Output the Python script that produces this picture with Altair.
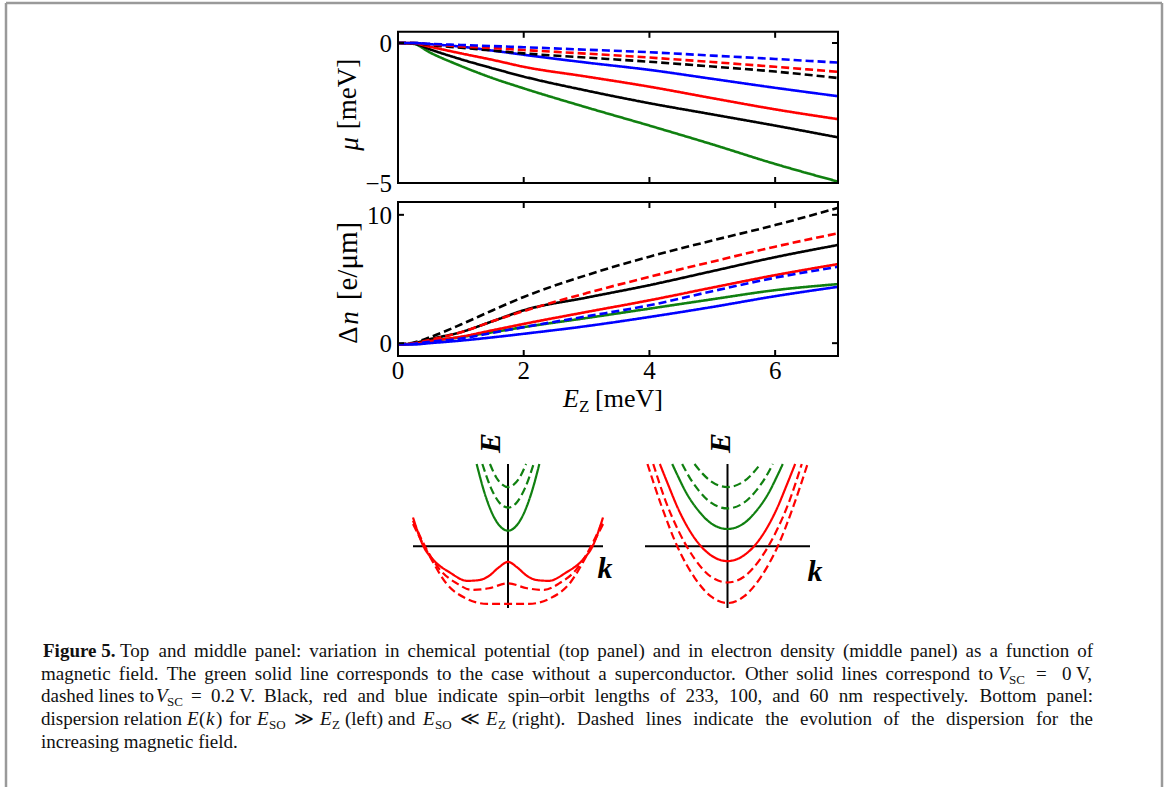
import altair as alt
import pandas as pd

W, H = 1168, 787
SERIF = "Liberation Serif"

# ---------------------------------------------------------------------------
# Upper panels: Zeeman energy grid (meV)
ez = [0, 0.25, 0.5, 1, 1.5, 2, 3, 4, 5, 6, 7]

# chemical potential mu (meV)
mu_green = [0.0, -0.03, -0.33, -0.82, -1.25, -1.62, -2.30, -2.95, -3.62, -4.32, -4.95]
mu_black = [0.0, -0.02, -0.22, -0.58, -0.90, -1.20, -1.70, -2.15, -2.55, -2.95, -3.37]
mu_red = [0.0, -0.01, -0.13, -0.37, -0.60, -0.85, -1.20, -1.56, -1.97, -2.37, -2.72]
mu_blue = [0.0, 0.0, -0.04, -0.13, -0.27, -0.42, -0.70, -0.96, -1.28, -1.60, -1.90]
mu_black_d = [0.0, 0.0, -0.07, -0.17, -0.27, -0.37, -0.52, -0.67, -0.84, -1.02, -1.25]
mu_red_d = [0.0, 0.0, -0.05, -0.12, -0.18, -0.25, -0.38, -0.52, -0.68, -0.85, -1.03]
mu_blue_d = [0.0, 0.0, -0.03, -0.07, -0.11, -0.15, -0.24, -0.33, -0.45, -0.57, -0.70]

# electron density change (e/um)
dn_green = [-0.1, -0.05, 0.15, 0.47, 0.85, 1.25, 1.96, 2.69, 3.42, 4.13, 4.60]
dn_black = [-0.1, 0.0, 0.30, 0.86, 1.70, 2.56, 3.55, 4.52, 5.61, 6.70, 7.65]
dn_red = [-0.1, -0.05, 0.15, 0.50, 1.00, 1.50, 2.43, 3.34, 4.33, 5.30, 6.16]
dn_blue = [-0.1, -0.1, 0.0, 0.20, 0.45, 0.73, 1.33, 2.04, 2.82, 3.66, 4.39]
dn_black_d = [-0.1, 0.05, 0.45, 1.45, 2.55, 3.60, 5.30, 6.74, 8.00, 9.20, 10.55]
dn_red_d = [-0.1, 0.0, 0.25, 0.85, 1.70, 2.50, 3.90, 5.17, 6.35, 7.52, 8.56]
dn_blue_d = [-0.1, -0.05, 0.10, 0.36, 0.80, 1.25, 2.09, 2.95, 4.05, 5.10, 5.95]

x_ticks = [2, 4, 6]
x_tick_labels = [0, 2, 4, 6]
mu_ticks = [0, -5]
mu_tick_labels = ["0", "\u22125"]
dn_ticks = [0, 10]
dn_tick_labels = ["0", "10"]

# ---------------------------------------------------------------------------
# Lower panels: schematic dispersion E(k), left (E_SO >> E_Z)
kL_green = [-0.33, -0.25, -0.15, 0.0, 0.15, 0.25, 0.33]
EL_green = [1.0, 0.66, 0.36, 0.19, 0.36, 0.66, 1.0]
kL_green_d1 = [-0.27, -0.18, -0.09, 0.0, 0.09, 0.18, 0.27]
EL_green_d1 = [1.0, 0.71, 0.53, 0.47, 0.53, 0.71, 1.0]
kL_green_d2 = [-0.19, -0.12, -0.06, 0.0, 0.06, 0.12, 0.19]
EL_green_d2 = [1.0, 0.83, 0.75, 0.72, 0.75, 0.83, 1.0]
kL_red = [-1.0, -0.89, -0.79, -0.61, -0.43, -0.30, -0.20, -0.10, 0.0,
          0.10, 0.20, 0.30, 0.43, 0.61, 0.79, 0.89, 1.0]
EL_red = [0.35, 0.0, -0.16, -0.32, -0.42, -0.41, -0.36, -0.26, -0.19,
          -0.26, -0.36, -0.41, -0.42, -0.32, -0.16, 0.0, 0.35]
kL_red_d1 = [-1.0, -0.86, -0.72, -0.54, -0.38, -0.20, 0.0, 0.20, 0.38, 0.54, 0.72, 0.86, 1.0]
EL_red_d1 = [0.31, -0.03, -0.28, -0.45, -0.53, -0.51, -0.45, -0.51, -0.53, -0.45, -0.28, -0.03, 0.31]
kL_red_d2 = [-1.0, -0.82, -0.65, -0.43, -0.22, 0.0, 0.22, 0.43, 0.65, 0.82, 1.0]
EL_red_d2 = [0.27, -0.13, -0.45, -0.64, -0.70, -0.70, -0.70, -0.64, -0.45, -0.13, 0.27]

# right (E_SO << E_Z)
kR_green = [-0.67, -0.6, -0.5, -0.35, -0.2, 0.0, 0.2, 0.35, 0.5, 0.6, 0.67]
ER_green = [1.0, 0.85, 0.65, 0.43, 0.28, 0.21, 0.28, 0.43, 0.65, 0.85, 1.0]
kR_green_d1 = [-0.55, -0.45, -0.35, -0.2, 0.0, 0.2, 0.35, 0.45, 0.55]
ER_green_d1 = [1.0, 0.82, 0.68, 0.53, 0.46, 0.53, 0.68, 0.82, 1.0]
kR_green_d2 = [-0.40, -0.3, -0.2, 0.0, 0.2, 0.3, 0.40]
ER_green_d2 = [1.0, 0.88, 0.79, 0.72, 0.79, 0.88, 1.0]
kR_red = [-0.82, -0.72, -0.6, -0.4, -0.2, 0.0, 0.2, 0.4, 0.6, 0.72, 0.82]
ER_red = [1.0, 0.75, 0.46, 0.10, -0.11, -0.18, -0.11, 0.10, 0.46, 0.75, 1.0]
kR_red_d1 = [-0.9, -0.75, -0.6, -0.4, -0.2, 0.0, 0.2, 0.4, 0.6, 0.75, 0.9]
ER_red_d1 = [1.0, 0.55, 0.20, -0.15, -0.37, -0.44, -0.37, -0.15, 0.20, 0.55, 1.0]
kR_red_d2 = [-0.97, -0.8, -0.6, -0.4, -0.2, 0.0, 0.2, 0.4, 0.6, 0.8, 0.97]
ER_red_d2 = [1.0, 0.49, -0.02, -0.38, -0.61, -0.69, -0.61, -0.38, -0.02, 0.49, 1.0]

# ---------------------------------------------------------------------------
# Caption runs: (line, left x, right x for justified runs or None, style, text)
caption_baselines = [657, 680, 702, 725, 748]
caption_runs = [
    (0, 43, None, "bold", "Figure 5."),
    (0, 120, 1093, "normal", "Top and middle panel: variation in chemical potential (top panel) and in electron density (middle panel) as a function of"),
    (1, 41, 993, "normal", "magnetic field. The green solid line corresponds to the case without a superconductor. Other solid lines correspond to"),
    (1, 998, None, "italic", "V"),
    (1, 1009, None, "sub", "SC"),
    (1, 1036, None, "normal", "="),
    (1, 1062, None, "normal", "0 V,"),
    (2, 41, None, "normal", "dashed lines to"),
    (2, 156, None, "italic", "V"),
    (2, 167, None, "sub", "SC"),
    (2, 191, None, "normal", "="),
    (2, 211, None, "normal", "0.2 V."),
    (2, 264, 1093, "normal", "Black, red and blue indicate spin\u2013orbit lengths of 233, 100, and 60 nm respectively. Bottom panel:"),
    (3, 41, None, "normal", "dispersion relation"),
    (3, 187, None, "italic", "E"),
    (3, 199, None, "normal", "("),
    (3, 206, None, "italic", "k"),
    (3, 216, None, "normal", ")"),
    (3, 229, None, "normal", "for"),
    (3, 257, None, "italic", "E"),
    (3, 269, None, "sub", "SO"),
    (3, 294, None, "normal", "\u226b"),
    (3, 320, None, "italic", "E"),
    (3, 332, None, "sub", "Z"),
    (3, 345, None, "normal", "(left) and"),
    (3, 423, None, "italic", "E"),
    (3, 435, None, "sub", "SO"),
    (3, 460, None, "normal", "\u226a"),
    (3, 486, None, "italic", "E"),
    (3, 498, None, "sub", "Z"),
    (3, 512, 1093, "normal", "(right). Dashed lines indicate the evolution of the dispersion for the"),
    (4, 41, None, "normal", "increasing magnetic field."),
]

# Times-compatible advance widths (per 1000 em) used to spread justified words
ADV = {
    " ": 250, "(": 333, ")": 333, ",": 250, "-": 333, ".": 250, ":": 278,
    "0": 500, "1": 500, "2": 500, "3": 500, "4": 500, "5": 500, "6": 500,
    "7": 500, "8": 500, "9": 500, "\u2013": 500,
    "A": 722, "B": 667, "C": 667, "D": 722, "E": 611, "F": 556, "O": 722,
    "T": 611, "V": 722,
    "a": 444, "b": 500, "c": 444, "d": 500, "e": 444, "f": 333, "g": 500,
    "h": 500, "i": 278, "j": 278, "k": 500, "l": 278, "m": 778, "n": 500,
    "o": 500, "p": 500, "q": 500, "r": 333, "s": 389, "t": 278, "u": 500,
    "v": 500, "w": 722, "x": 500, "y": 500, "z": 444,
}

COLORS = {"green": "#108010", "black": "#000000", "red": "#ff0000", "blue": "#0000ff"}


def sc(domain, rng):
    return alt.Scale(domain=domain, range=rng, nice=False, zero=False)


def qx(field, scale):
    return alt.X(field, type="quantitative", scale=scale, axis=None)


def qy(field, scale):
    return alt.Y(field, type="quantitative", scale=scale, axis=None)


# pixel placement of each panel
X_EZ = sc([0, 7], [398, 838])
Y_MU = sc([-5, 0.4], [183, 31.8])
Y_DN = sc([-1, 11], [356, 202])
K_L = sc([-1, 1], [413, 603])
K_R = sc([-1, 1], [645, 810])
E_S = sc([-0.75, 1], [608, 464])


def curves_table(xs_list, ys_list, names):
    rows = []
    for xs, ys, (name, colour, style) in zip(xs_list, ys_list, names):
        for x, y in zip(xs, ys):
            rows.append({"x": x, "y": y, "series": name,
                         "color": COLORS[colour], "style": style})
    return pd.DataFrame(rows)


def curve_layer(df, xs, ys, width, dash):
    return alt.Chart(df).mark_line(strokeWidth=width, interpolate="monotone").encode(
        x=qx("x", xs),
        y=qy("y", ys),
        color=alt.Color("color:N", scale=None),
        strokeDash=alt.StrokeDash(
            "style:N",
            scale=alt.Scale(domain=["solid", "dashed"], range=[[1, 0], dash]),
            legend=None,
        ),
        detail="series:N",
    )


def frame_layer(xs, ys, x0, x1, y0, y1):
    df = pd.DataFrame([{"x0": x0, "x1": x1, "y0": y0, "y1": y1}])
    return alt.Chart(df).mark_rect(fillOpacity=0, stroke="black", strokeWidth=2).encode(
        x=qx("x0", xs), x2="x1", y=qy("y0", ys), y2="y1"
    )


def rules_layer(df, xs, ys, width=2):
    return alt.Chart(df).mark_rule(color="black", strokeWidth=width).encode(
        x=qx("x0", xs), x2="x1", y=qy("y0", ys), y2="y1"
    )


layers = []

# ----- top panel: chemical potential --------------------------------------
mu_solid = curves_table(
    [ez] * 4, [mu_green, mu_black, mu_red, mu_blue],
    [("g", "green", "solid"), ("k", "black", "solid"), ("r", "red", "solid"), ("b", "blue", "solid")],
)
mu_dashed = curves_table(
    [ez] * 3, [mu_black_d, mu_red_d, mu_blue_d],
    [("kd", "black", "dashed"), ("rd", "red", "dashed"), ("bd", "blue", "dashed")],
)
layers.append(curve_layer(mu_solid, X_EZ, Y_MU, 2.6, [8, 4]))
layers.append(curve_layer(mu_dashed, X_EZ, Y_MU, 2.6, [8, 4]))
layers.append(frame_layer(X_EZ, Y_MU, 0, 7, -5, 0.4))

TX = 6 / 63.0    # tick length in E_Z units
TMU = 6 / 28.0   # tick length in mu units
TDN = 6 / 12.83  # tick length in density units

mu_tick_rows = []
for t in x_ticks:
    mu_tick_rows.append({"x0": t, "x1": t, "y0": -5, "y1": -5 + TMU})
    mu_tick_rows.append({"x0": t, "x1": t, "y0": 0.4, "y1": 0.4 - TMU})
for t in mu_ticks:
    mu_tick_rows.append({"x0": 0, "x1": TX, "y0": t, "y1": t})
    mu_tick_rows.append({"x0": 7, "x1": 7 - TX, "y0": t, "y1": t})
layers.append(rules_layer(pd.DataFrame(mu_tick_rows), X_EZ, Y_MU))

layers.append(
    alt.Chart(pd.DataFrame({"x": [0, 0], "y": mu_ticks, "t": mu_tick_labels}))
    .mark_text(font=SERIF, fontSize=25, align="right", baseline="middle", dx=-6, dy=1)
    .encode(x=qx("x", X_EZ), y=qy("y", Y_MU), text="t:N")
)

# ----- middle panel: density ----------------------------------------------
dn_solid = curves_table(
    [ez] * 4, [dn_green, dn_black, dn_red, dn_blue],
    [("g", "green", "solid"), ("k", "black", "solid"), ("r", "red", "solid"), ("b", "blue", "solid")],
)
dn_dashed = curves_table(
    [ez] * 3, [dn_black_d, dn_red_d, dn_blue_d],
    [("kd", "black", "dashed"), ("rd", "red", "dashed"), ("bd", "blue", "dashed")],
)
layers.append(curve_layer(dn_solid, X_EZ, Y_DN, 2.6, [8, 4]))
layers.append(curve_layer(dn_dashed, X_EZ, Y_DN, 2.6, [8, 4]))
layers.append(frame_layer(X_EZ, Y_DN, 0, 7, -1, 11))

dn_tick_rows = []
for t in x_ticks:
    dn_tick_rows.append({"x0": t, "x1": t, "y0": -1, "y1": -1 + TDN})
    dn_tick_rows.append({"x0": t, "x1": t, "y0": 11, "y1": 11 - TDN})
for t in dn_ticks:
    dn_tick_rows.append({"x0": 0, "x1": TX, "y0": t, "y1": t})
    dn_tick_rows.append({"x0": 7, "x1": 7 - TX, "y0": t, "y1": t})
layers.append(rules_layer(pd.DataFrame(dn_tick_rows), X_EZ, Y_DN))

layers.append(
    alt.Chart(pd.DataFrame({"x": [0, 0], "y": dn_ticks, "t": dn_tick_labels}))
    .mark_text(font=SERIF, fontSize=25, align="right", baseline="middle", dx=-6, dy=1)
    .encode(x=qx("x", X_EZ), y=qy("y", Y_DN), text="t:N")
)
layers.append(
    alt.Chart(pd.DataFrame({"x": x_tick_labels, "y": [-1] * 4,
                            "t": [str(v) for v in x_tick_labels]}))
    .mark_text(font=SERIF, fontSize=25, align="center", baseline="alphabetic", dy=23)
    .encode(x=qx("x", X_EZ), y=qy("y", Y_DN), text="t:N")
)


# ----- axis titles -----------------------------------------------------------
def label(text, x, y, size=24, style="normal", weight="normal", angle=0,
          align="center", baseline="middle"):
    return alt.Chart(pd.DataFrame({"t": [text]})).mark_text(
        text=text, font=SERIF, fontSize=size, fontStyle=style, fontWeight=weight,
        angle=angle, align=align, baseline=baseline, color="black",
    ).encode(x=alt.value(x), y=alt.value(y))


layers += [
    label("[meV]", 348, 94, size=27, angle=270),
    label("\u03bc", 350, 144, size=27, style="italic", angle=270),
    label("[e/\u03bcm]", 348, 261, size=29, angle=270),
    label("n", 350, 318, size=27, style="italic", angle=270),
    label("\u0394", 349, 335, size=27, angle=270),
    label("E", 563, 407, size=26, style="italic", align="left", baseline="alphabetic"),
    label("Z", 579, 412, size=17, align="left", baseline="alphabetic"),
    label("[meV]", 595, 407, size=26, align="left", baseline="alphabetic"),
]

# ----- schematic dispersions --------------------------------------------------
for kscale in (K_L, K_R):
    axes = pd.DataFrame([
        {"x0": -1, "x1": 1, "y0": 0, "y1": 0},
        {"x0": 0, "x1": 0, "y0": -0.75, "y1": 1},
    ])
    layers.append(rules_layer(axes, kscale, E_S, width=2))

left_curves = curves_table(
    [kL_red_d1, kL_red_d2, kL_green_d1, kL_green_d2, kL_red, kL_green],
    [EL_red_d1, EL_red_d2, EL_green_d1, EL_green_d2, EL_red, EL_green],
    [("rd1", "red", "dashed"), ("rd2", "red", "dashed"), ("gd1", "green", "dashed"),
     ("gd2", "green", "dashed"), ("r", "red", "solid"), ("g", "green", "solid")],
)
right_curves = curves_table(
    [kR_red_d1, kR_red_d2, kR_green_d1, kR_green_d2, kR_red, kR_green],
    [ER_red_d1, ER_red_d2, ER_green_d1, ER_green_d2, ER_red, ER_green],
    [("rd1", "red", "dashed"), ("rd2", "red", "dashed"), ("gd1", "green", "dashed"),
     ("gd2", "green", "dashed"), ("r", "red", "solid"), ("g", "green", "solid")],
)
layers.append(curve_layer(left_curves, K_L, E_S, 2.2, [6, 4]))
layers.append(curve_layer(right_curves, K_R, E_S, 2.2, [6, 4]))

layers += [
    label("E", 491, 443, size=30, style="italic", weight="bold", angle=270),
    label("k", 605, 569, size=30, style="italic", weight="bold"),
    label("E", 721, 443, size=30, style="italic", weight="bold", angle=270),
    label("k", 815, 572, size=30, style="italic", weight="bold"),
]

# ----- caption (justified runs are laid out word by word) ----------------------
CAP = 19
STYLE_SIZE = {"normal": CAP, "italic": CAP, "bold": CAP, "sub": 13}


def word_width(word, size):
    return sum(ADV.get(c, 500) for c in word) * size / 1000.0


cap_rows = []
for line, x0, x1, style, text in caption_runs:
    size = STYLE_SIZE[style]
    y = caption_baselines[line] + (4 if style == "sub" else 0)
    if x1 is None:
        cap_rows.append({"x": x0, "y": y, "style": style, "t": text})
        continue
    words = text.split(" ")
    widths = [word_width(w, size) for w in words]
    gap = (x1 - x0 - sum(widths)) / (len(words) - 1)
    x = x0
    for w, wd in zip(words, widths):
        cap_rows.append({"x": x, "y": y, "style": style, "t": w})
        x += wd + gap
cap_df = pd.DataFrame(cap_rows)

for style, kw in (
    ("normal", {}),
    ("bold", {"fontWeight": "bold"}),
    ("italic", {"fontStyle": "italic"}),
    ("sub", {}),
):
    layers.append(
        alt.Chart(cap_df[cap_df["style"] == style]).mark_text(
            font=SERIF, fontSize=STYLE_SIZE[style], align="left",
            baseline="alphabetic", color="#111111", **kw
        ).encode(
            x=alt.X("x:Q", scale=None, axis=None),
            y=alt.Y("y:Q", scale=None, axis=None),
            text="t:N",
        )
    )

# ----- page border -------------------------------------------------------------
for x1, y1, x2, y2 in ((6, 3, 6, H), (6, 3, 1162, 3), (1162, 3, 1162, H)):
    layers.append(
        alt.Chart(pd.DataFrame({"a": [0]})).mark_rule(color="#9a9a9a", strokeWidth=2.5).encode(
            x=alt.value(x1), x2=alt.value(x2), y=alt.value(y1), y2=alt.value(y2)
        )
    )

chart = (
    alt.layer(*layers)
    .resolve_scale(x="independent", y="independent")
    .properties(width=W, height=H, padding=0, autosize="none", background="white")
    .configure_view(strokeWidth=0)
)

chart.save("out.html", embed_options={"renderer": "svg", "actions": False})
